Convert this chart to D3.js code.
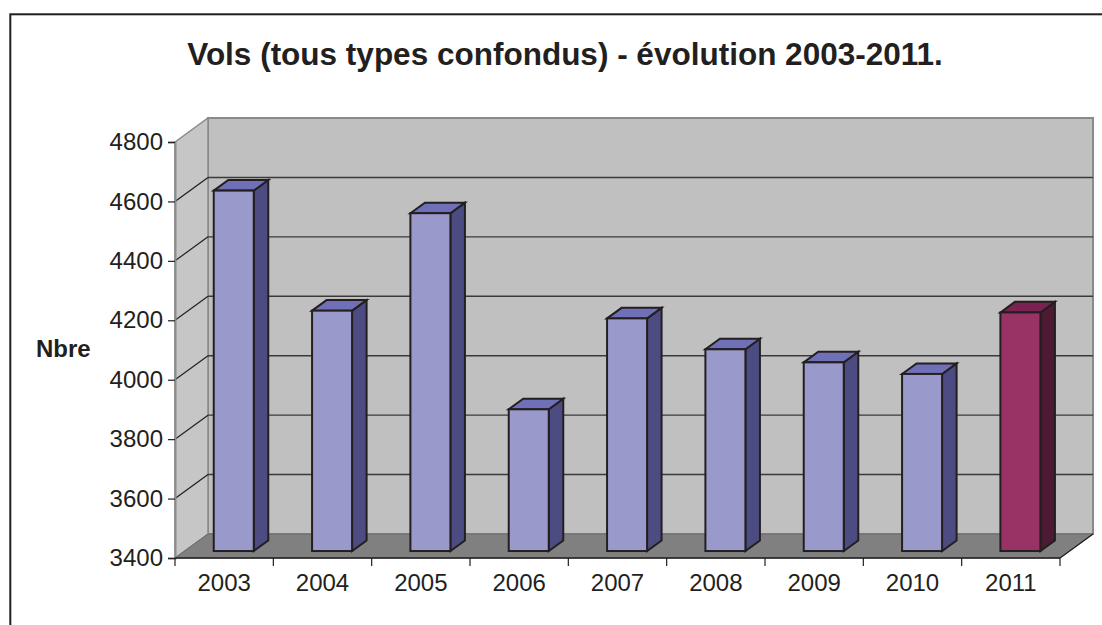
<!DOCTYPE html>
<html>
<head>
<meta charset="utf-8">
<script src="https://cdn.jsdelivr.net/npm/d3@7/dist/d3.min.js"></script>
<style>
  html, body { margin: 0; padding: 0; background: #fff; }
  svg { display: block; }
  text { font-family: "Liberation Sans", Arial, sans-serif; fill: #231f20; }
</style>
</head>
<body>
<svg id="chart" width="1102" height="625"></svg>
<script>
// Flights per year (all types combined)
const years = ["2003", "2004", "2005", "2006", "2007", "2008", "2009", "2010", "2011"];
const flights = [4613, 4209, 4537, 3877, 4183, 4079, 4035, 3996, 4203];
const yTicks = [3400, 3600, 3800, 4000, 4200, 4400, 4600, 4800];

(function () {
const svg = d3.select("#chart");
const W = 1102, H = 625;

// outer frame (runs past the right and bottom edges of the page)
svg.append("rect")
  .attr("x", 10.3).attr("y", 14.3)
  .attr("width", W + 20).attr("height", H + 20)
  .attr("fill", "#fff").attr("stroke", "#231f20").attr("stroke-width", 2);

// front plane of the 3D box and its depth offset
const pLeft = 175, pRight = 1060, pBottom = 558, pTop = 142;
const DX = 33, DY = -24;

const x = d3.scaleBand().domain(years).range([pLeft, pRight]).padding(0);
const y = d3.scaleLinear().domain([3400, 4800]).range([pBottom, pTop]);

const g = svg.append("g");
const pts = a => a.map(p => p.join(",")).join(" ");

// back wall
g.append("polygon")
  .attr("points", pts([[pLeft + DX, pTop + DY], [pRight + DX, pTop + DY], [pRight + DX, pBottom + DY], [pLeft + DX, pBottom + DY]]))
  .attr("fill", "#c0c0c0").attr("stroke", "#8a8a8a").attr("stroke-width", 2);

// left side wall
g.append("polygon")
  .attr("points", pts([[pLeft, pTop], [pLeft + DX, pTop + DY], [pLeft + DX, pBottom + DY], [pLeft, pBottom]]))
  .attr("fill", "#c6c6c6").attr("stroke", "#8a8a8a").attr("stroke-width", 1.5);

const inner = yTicks.filter(t => t > 3400 && t < 4800);

// gridlines on the back wall
g.selectAll("line.grid-back")
  .data(inner)
  .join("line")
  .attr("class", "grid-back")
  .attr("x1", pLeft + DX).attr("x2", pRight + DX)
  .attr("y1", d => y(d) + DY).attr("y2", d => y(d) + DY)
  .attr("stroke", "#3a3a3a").attr("stroke-width", 1.4);

// gridlines running across the side wall
g.selectAll("line.grid-side")
  .data(inner)
  .join("line")
  .attr("class", "grid-side")
  .attr("x1", pLeft).attr("x2", pLeft + DX)
  .attr("y1", d => y(d)).attr("y2", d => y(d) + DY)
  .attr("stroke", "#231f20").attr("stroke-width", 1.2);

// floor
g.append("polygon")
  .attr("points", pts([[pLeft, pBottom], [pRight, pBottom], [pRight + DX, pBottom + DY], [pLeft + DX, pBottom + DY]]))
  .attr("fill", "#808080").attr("stroke", "#6a6a6a").attr("stroke-width", 1);

// floor right edge
g.append("line")
  .attr("x1", pRight).attr("y1", pBottom).attr("x2", pRight + DX).attr("y2", pBottom + DY)
  .attr("stroke", "#231f20").attr("stroke-width", 1.2);

// bars: front face sits at depth f1, back face at f2
const f1 = 0.29, f2 = 0.73;
const barW = 40;
const ddx = (f2 - f1) * DX, ddy = (f2 - f1) * DY;

const normal = { front: "#9999cc", top: "#7070b8", side: "#4c4c82" };
const highlight = { front: "#993366", top: "#7a2252", side: "#4d1a33" };

const bars = g.selectAll("g.bar")
  .data(years.map((yr, i) => ({ yr, v: flights[i], last: i === years.length - 1 })))
  .join("g").attr("class", "bar");

bars.each(function (d) {
  const c = d.last ? highlight : normal;
  const xl = x(d.yr) + (x.bandwidth() - barW) / 2 + f1 * DX;
  const xr = xl + barW;
  const yt = y(d.v) + f1 * DY;
  const yb = y(3400) + f1 * DY;
  const sel = d3.select(this);
  const common = s => s.attr("stroke", "#231f20").attr("stroke-width", 2).attr("stroke-linejoin", "miter");
  sel.append("polygon").attr("points", pts([[xr, yt], [xr + ddx, yt + ddy], [xr + ddx, yb + ddy], [xr, yb]]))
    .attr("fill", c.side).call(common);
  sel.append("polygon").attr("points", pts([[xl, yt], [xl + ddx, yt + ddy], [xr + ddx, yt + ddy], [xr, yt]]))
    .attr("fill", c.top).call(common);
  sel.append("rect").attr("x", xl).attr("y", yt).attr("width", barW).attr("height", yb - yt)
    .attr("fill", c.front).call(common);
});

// value axis
const yAxis = svg.append("g")
  .attr("transform", `translate(${pLeft},0)`)
  .call(d3.axisLeft(y).tickValues(yTicks).tickFormat(d3.format("d")).tickSize(7).tickPadding(5));
yAxis.select(".domain").attr("stroke", "#8a8a8a").attr("stroke-width", 2);
yAxis.selectAll(".tick line").attr("stroke", "#231f20").attr("stroke-width", 1.2);
yAxis.selectAll(".tick text")
  .style("font-size", "24px").attr("fill", "#231f20");

// category axis: labels at band centres, ticks at band edges
const xAxis = svg.append("g")
  .attr("transform", `translate(0,${pBottom})`)
  .call(d3.axisBottom(x).tickSize(0).tickPadding(16));
xAxis.select(".domain").remove();
xAxis.selectAll(".tick text").style("font-size", "24px").attr("fill", "#231f20");

svg.append("line")
  .attr("x1", pLeft).attr("x2", pRight).attr("y1", pBottom).attr("y2", pBottom)
  .attr("stroke", "#231f20").attr("stroke-width", 1.5);
svg.selectAll("line.xtick")
  .data(years.map(yr => x(yr)).concat([pRight]))
  .join("line").attr("class", "xtick")
  .attr("x1", d => d).attr("x2", d => d)
  .attr("y1", pBottom).attr("y2", pBottom + 8)
  .attr("stroke", "#231f20").attr("stroke-width", 1.2);

// axis title
svg.append("text")
  .attr("x", 36).attr("y", 357)
  .style("font-size", "24px").style("font-weight", "bold")
  .text("Nbre");

// chart title
svg.append("text")
  .attr("x", 565).attr("y", 65)
  .attr("text-anchor", "middle")
  .style("font-size", "31.5px").style("font-weight", "bold")
  .text("Vols (tous types confondus) - évolution 2003-2011.");
})();
</script>
</body>
</html>
